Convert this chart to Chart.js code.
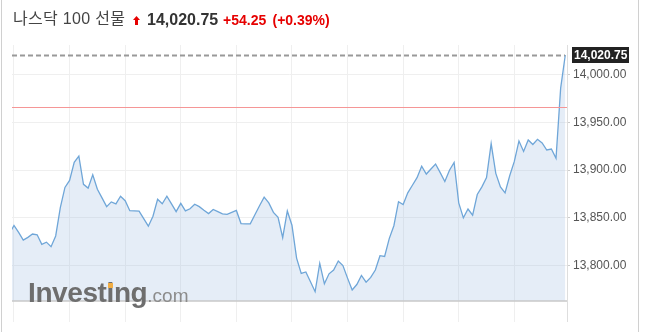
<!DOCTYPE html>
<html>
<head>
<meta charset="utf-8">
<script src="https://cdn.jsdelivr.net/npm/chart.js@4.4.0/dist/chart.umd.min.js"></script>
<style>
  html, body { margin: 0; padding: 0; background: #fff; }
  body { width: 647px; height: 332px; position: relative; overflow: hidden; font-family: "Liberation Sans", Arial, sans-serif; }
  #frame { position: absolute; left: 1px; top: 0; width: 636px; height: 332px; border-left: 1px solid #d0d0d0; border-right: 1px solid #d0d0d0; }
  canvas { position: absolute; left: 0; top: 0; }
  .hd { position: absolute; line-height: 1; white-space: nowrap; }
  #title { left: 13px; top: 10.5px; font-size: 16px; letter-spacing: 0.3px; color: #444; font-family: "Liberation Sans", Arial, "Noto Sans CJK KR", sans-serif; }
  #arrow { position: absolute; left: 133px; top: 16px; }
  #price { left: 147px; top: 11.5px; font-size: 16px; font-weight: bold; color: #333; }
  #chg { left: 223px; top: 12.5px; font-size: 14px; font-weight: bold; color: #e60000; }
  #pct { left: 272.5px; top: 12.5px; font-size: 14px; font-weight: bold; color: #e60000; }
  #wm { position: absolute; left: 28px; top: 279px; line-height: 1; white-space: nowrap; pointer-events: none; }
  #wm .a { font-size: 28px; font-weight: bold; color: #6e6e6e; letter-spacing: -0.4px; }
  #wm .b { font-size: 19px; color: #8c8c8c; }
  #wmdot { position: absolute; left: 108px; top: 283px; width: 5px; height: 5px; background: #f2ae45; }
</style>
</head>
<body>
<div id="frame"></div>
<canvas id="chart" width="647" height="332"></canvas>
<div class="hd" id="title">나스닥 100 선물</div>
<svg id="arrow" width="7" height="9" viewBox="0 0 7 9"><polygon points="3.5,0 7,4 5,4 5,9 2,9 2,4 0,4" fill="#e60000"/></svg>
<div class="hd" id="price"></div>
<div class="hd" id="chg"></div>
<div class="hd" id="pct"></div>
<div id="wm"><span class="a">Investing</span><span class="b">.com</span></div>
<div id="wmdot"></div>
<script>
// 5-minute closes, first one sits just left of the plot edge
const closes = [
  13833.25, 13841.75, 13834.5, 13826.5, 13829.25, 13832.75, 13832, 13822, 13824.25, 13819.5,
  13830.75, 13860.5, 13881.75, 13889, 13908, 13914.5, 13885, 13881, 13895, 13879.75,
  13870.75, 13861.5, 13866.5, 13864.5, 13872.5, 13867.75, 13857.25, 13857, 13856.75, 13849,
  13841, 13851.5, 13869.25, 13864.5, 13872.5, 13864.5, 13856.25, 13865, 13857, 13859.25,
  13864, 13861.5, 13857.75, 13854.25, 13858.5, 13856.25, 13854, 13853.5, 13855.5, 13857.5,
  13843.75, 13843.5, 13843.5, 13853, 13862.5, 13871.5, 13865.5, 13855.5, 13850.25, 13829,
  13857, 13842, 13807.5, 13791.5, 13793, 13782.75, 13772.25, 13802, 13780.5, 13791,
  13795, 13804.5, 13799.75, 13786.5, 13774, 13779.75, 13789.25, 13782.25, 13787.25, 13795,
  13810, 13809.25, 13828, 13841.5, 13866.75, 13863.75, 13876, 13884, 13892, 13904,
  13895.75, 13901, 13906.25, 13897.25, 13888, 13899.75, 13908, 13865.5, 13849.75, 13859,
  13852.5, 13874.25, 13882.25, 13892, 13927.75, 13896.5, 13882.25, 13876, 13894, 13909,
  13930.5, 13919.5, 13931.5, 13926.75, 13932.25, 13928.5, 13921, 13922, 13912.25, 13986,
  14020.75
];
const lastPrice = 14020.75;
const prevClose = 13966.5;
const change = "+54.25";
const changePct = "(+0.39%)";
const yTicks = [13800, 13850, 13900, 13950, 14000];
const xGrid = [0, 12, 24, 36, 48, 60, 72, 84, 96, 108];
const floorValue = 13762.5;

const fmt = v => v.toLocaleString("en-US", { minimumFractionDigits: 2, maximumFractionDigits: 2 });

document.getElementById("price").textContent = fmt(lastPrice);
document.getElementById("chg").textContent = change;
document.getElementById("pct").textContent = changePct;

const overlay = {
  id: "overlay",
  afterDatasetsDraw(chart) {
    const { ctx, chartArea: a, scales: { y } } = chart;
    ctx.save();
    ctx.setLineDash([]);
    // previous close
    const py = Math.round(y.getPixelForValue(prevClose));
    ctx.fillStyle = "rgb(245,150,150)";
    ctx.fillRect(a.left, py, a.right - a.left, 1);
    // bottom of price pane
    const fy = y.getPixelForValue(floorValue);
    ctx.strokeStyle = "#c8c8c8";
    ctx.lineWidth = 1.5;
    ctx.beginPath(); ctx.moveTo(a.left, fy); ctx.lineTo(a.right, fy); ctx.stroke();
    // last price dashed line
    const ly = Math.round(y.getPixelForValue(lastPrice)) + 0.5;
    ctx.strokeStyle = "#999";
    ctx.lineWidth = 2;
    ctx.setLineDash([5, 3]);
    ctx.beginPath(); ctx.moveTo(a.left, ly); ctx.lineTo(a.right - 2, ly); ctx.stroke();
    ctx.setLineDash([]);
    // last price tag
    ctx.fillStyle = "#222";
    ctx.fillRect(a.right + 5, ly - 8.5, 57, 16);
    ctx.fillStyle = "#fff";
    ctx.font = "bold 12px 'Liberation Sans', Arial";
    ctx.textBaseline = "middle";
    ctx.fillText(fmt(lastPrice), a.right + 7, ly);
    ctx.restore();
  }
};

new Chart(document.getElementById("chart"), {
  type: "line",
  data: {
    datasets: [{
      data: closes.map((v, i) => ({ x: i - 1, y: v })),
      borderColor: "#6fa6d8",
      borderWidth: 1.3,
      backgroundColor: "rgba(150,185,225,0.25)",
      fill: { value: floorValue },
      pointRadius: 0,
      tension: 0
    }]
  },
  options: {
    responsive: false,
    animation: false,
    layout: { padding: { left: 12, top: 45, right: 0, bottom: 8 } },
    plugins: { legend: { display: false }, tooltip: { enabled: false } },
    scales: {
      x: {
        type: "linear",
        min: -0.43,
        max: 119.37,
        afterBuildTicks: s => { s.ticks = xGrid.map(v => ({ value: v })); },
        ticks: { display: false },
        grid: { color: "#efefef", drawTicks: false },
        border: { display: false }
      },
      y: {
        position: "right",
        min: 13740.625,
        max: 14031.25,
        afterBuildTicks: s => { s.ticks = yTicks.map(v => ({ value: v })); },
        afterFit: s => { s.width = 80; },
        ticks: {
          padding: 3,
          color: "#555",
          font: { family: "'Liberation Sans', Arial", size: 12 },
          callback: v => fmt(v)
        },
        grid: { color: "#efefef", tickColor: "#ccc", tickLength: 3 },
        border: { color: "#dedede" }
      }
    }
  },
  plugins: [overlay]
});
</script>
</body>
</html>
